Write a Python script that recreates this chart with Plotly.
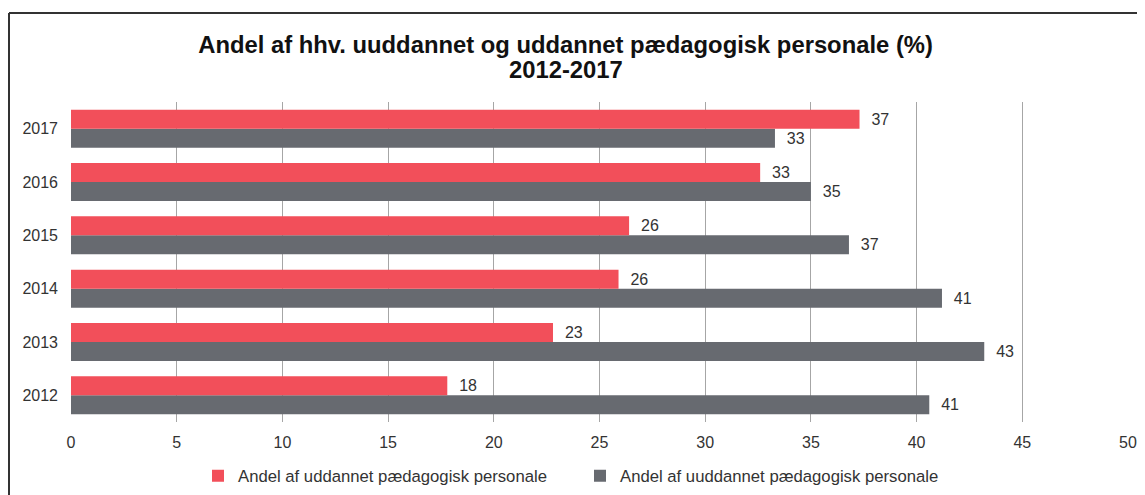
import plotly.graph_objects as go

# Data
years = ["2012", "2013", "2014", "2015", "2016", "2017"]
uddannet = [17.8, 22.8, 25.9, 26.4, 32.6, 37.3]
uuddannet = [40.6, 43.2, 41.2, 36.8, 35.0, 33.3]
x_ticks = [0, 5, 10, 15, 20, 25, 30, 35, 40, 45, 50]

RED = "#F24F5A"
GREY = "#676A70"
TEXT = "#333333"
FONT = "Liberation Sans, Arial, sans-serif"

# page body has an 8px margin, so the figure is a bit smaller than the window
W, H = 1137, 487
L, R, T, B = 63, 17, 94, 73
plot_w, plot_h = W - L - R, H - T - B


def px_x(x):
    return (x - L) / plot_w


def px_y(y):
    return (H - B - y) / plot_h


fig = go.Figure()

# grey first so the red bar sits on top inside each group
fig.add_trace(go.Bar(
    y=years, x=uuddannet, orientation="h",
    name="Andel af uuddannet pædagogisk personale",
    marker=dict(color=GREY, line=dict(width=0)),
    texttemplate="\u00a0\u00a0%{x:.0f}", textposition="outside",
    textfont=dict(size=16, color=TEXT, family=FONT),
    cliponaxis=False,
))
fig.add_trace(go.Bar(
    y=years, x=uddannet, orientation="h",
    name="Andel af uddannet pædagogisk personale",
    marker=dict(color=RED, line=dict(width=0)),
    texttemplate="\u00a0\u00a0%{x:.0f}", textposition="outside",
    textfont=dict(size=16, color=TEXT, family=FONT),
    cliponaxis=False,
))

fig.update_layout(
    width=W, height=H,
    margin=dict(l=L, r=R, t=T, b=B, autoexpand=False),
    paper_bgcolor="white", plot_bgcolor="white",
    font=dict(family=FONT, size=16, color=TEXT),
    barmode="group", bargap=0.287, bargroupgap=0,
    title=dict(
        text="<b>Andel af hhv. uuddannet og uddannet pædagogisk personale (%)</b>",
        x=0.4904, xanchor="center", y=1 - 37 / H, yanchor="middle",
        font=dict(size=23.8, color="#111111", family=FONT),
    ),
    legend=dict(
        orientation="h", traceorder="reversed",
        x=px_x(190), xanchor="left", y=px_y(468), yanchor="middle",
        font=dict(size=16.7, color=TEXT, family=FONT),
        itemwidth=30, entrywidth=337, entrywidthmode="pixels",
    ),
    showlegend=True,
)

# second title line, placed a little tighter than plotly's title line height
fig.add_annotation(
    text="<b>2012-2017</b>", showarrow=False,
    xref="paper", yref="paper", x=px_x(0.4904 * W), y=px_y(62),
    xanchor="center", yanchor="middle",
    font=dict(size=23.8, color="#111111", family=FONT),
)

fig.update_xaxes(
    range=[0, 50], tickvals=x_ticks,
    showgrid=True, gridcolor="#A6A6A6", gridwidth=1,
    zeroline=False, showline=False,
    ticks="", ticklabelstandoff=9,
    tickfont=dict(size=16, color=TEXT),
)
fig.update_yaxes(
    type="category", categoryorder="array", categoryarray=years,
    showgrid=False, zeroline=False, showline=False,
    ticks="", ticklabelstandoff=12,
    tickfont=dict(size=16, color=TEXT),
)

# outer frame of the original image (top and left edges)
fig.add_shape(type="line", xref="paper", yref="paper",
              x0=px_x(1), x1=px_x(W + 5), y0=px_y(5), y1=px_y(5),
              line=dict(color="#333333", width=2))
fig.add_shape(type="line", xref="paper", yref="paper",
              x0=px_x(1), x1=px_x(1), y0=px_y(5), y1=px_y(H + 5),
              line=dict(color="#333333", width=2))

fig.write_html("out.html")
